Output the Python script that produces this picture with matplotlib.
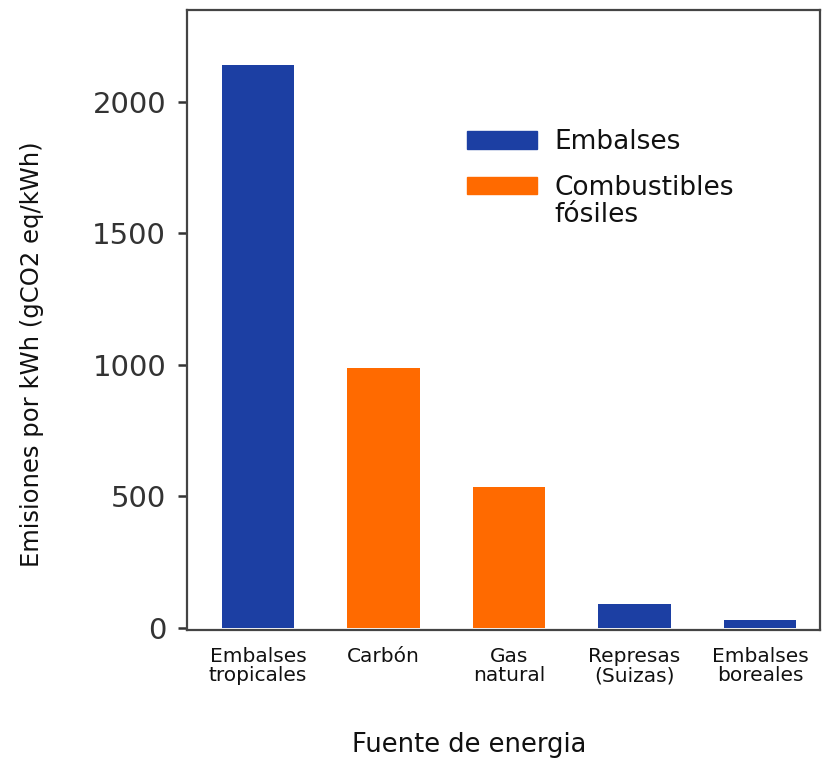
import matplotlib.pyplot as plt
from matplotlib.patches import Patch
from matplotlib.legend_handler import HandlerPatch

# data
categories = ["Embalses\ntropicales", "Carbón", "Gas\nnatural", "Represas\n(Suizas)", "Embalses\nboreales"]
emissions = [2140, 988, 536, 90, 30]
groups = ["Embalses", "Fósiles", "Fósiles", "Embalses", "Embalses"]

BLUE = "#1c3fa3"
ORANGE = "#ff6a00"
group_colors = {"Embalses": BLUE, "Fósiles": ORANGE}
legend_labels = ["Embalses", "Combustibles\nfósiles"]


class RaisedPatch(HandlerPatch):
    # legend patch lined up with the first line of a two-line label
    def __init__(self, lift=0, **kw):
        super().__init__(**kw)
        self.lift = lift

    def create_artists(self, legend, orig_handle, xdescent, ydescent,
                       width, height, fontsize, trans):
        arts = super().create_artists(legend, orig_handle, xdescent, ydescent,
                                      width, height, fontsize, trans)
        for a in arts:
            a.set_y(a.get_y() + self.lift)
        return arts


plt.rcParams['font.family'] = ['DejaVu Sans']

fig = plt.figure(figsize=(8.22, 7.59), dpi=100)
ax = fig.add_axes([187 / 822, 129 / 759, 633 / 822, 620 / 759])

x = list(range(len(categories)))
ax.bar(x, emissions, width=0.575, color=[group_colors[g] for g in groups])

ax.set_xlim(-0.566, 4.478)
ax.set_ylim(-8, 2350)
ax.set_yticks([0, 500, 1000, 1500, 2000])
ax.tick_params(axis='y', labelsize=21, length=6.5, width=1.8, colors='#333333',
               labelcolor='#333333', pad=8.5)
ax.set_xticks(x)
ax.set_xticklabels(categories, fontsize=14.5, color='#111111', linespacing=1.05)
ax.tick_params(axis='x', length=0, pad=12)

for side in ['left', 'right', 'top', 'bottom']:
    ax.spines[side].set_linewidth(1.6)
    ax.spines[side].set_color('#444444')

ax.set_ylabel("Emisiones por kWh (gCO2 eq/kWh)", fontsize=17.5, color='#111111')
ax.yaxis.set_label_coords(-0.226, 0.445)
ax.set_xlabel("Fuente de energia", fontsize=18.5, color='#111111', ha='left')
ax.xaxis.set_label_coords(0.261, -0.165)

handles = [Patch(color=BLUE), Patch(color=ORANGE)]
leg = ax.legend(handles, legend_labels, frameon=False, fontsize=19, loc='upper left',
                bbox_to_anchor=(0.442, 0.808),
                handlelength=2.65, handleheight=0.65, handletextpad=0.68,
                labelspacing=0.75, borderpad=0, borderaxespad=0,
                handler_map={handles[0]: RaisedPatch(lift=0),
                             handles[1]: RaisedPatch(lift=12)})
for t in leg.get_texts():
    t.set_linespacing(1.07)
    t.set_color('#111111')

fig.savefig("out.png", dpi=100)
